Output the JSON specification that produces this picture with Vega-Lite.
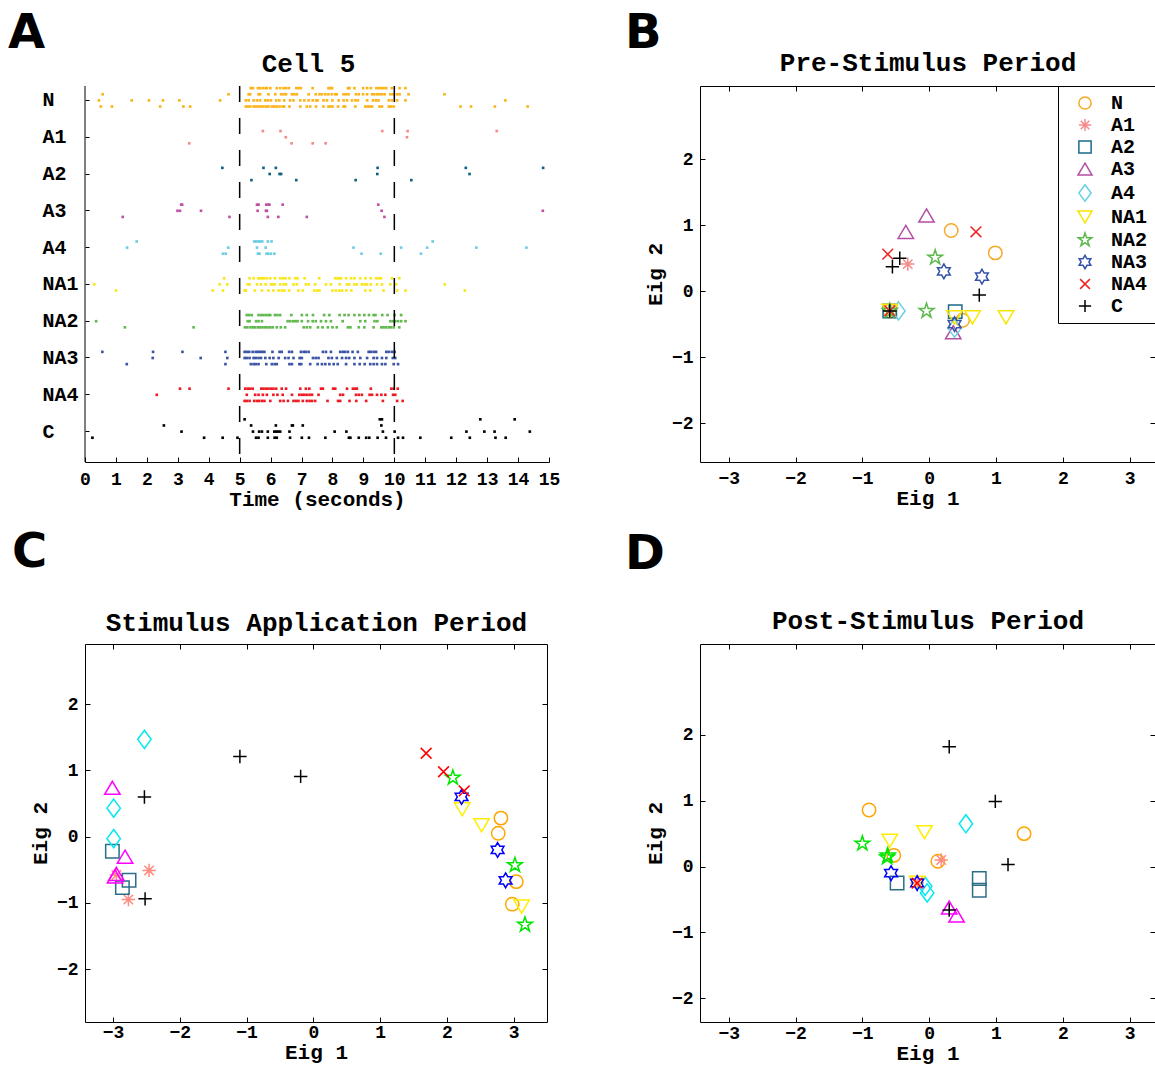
{
  "$schema": "https://vega.github.io/schema/vega-lite/v6.json",
  "background": "white",
  "padding": {"left": 8, "top": 9, "right": 0, "bottom": 0},
  "columns": 2,
  "spacing": {"row": 182, "column": 151},
  "bounds": "flush",
  "config": {
    "font": "Liberation Mono",
    "view": {"stroke": null},
    "axis": {"labelFont": "Liberation Mono", "labelFontWeight": "bold", "labelFontSize": 18, "labelColor": "black", "titleFont": "Liberation Mono", "titleFontWeight": "bold", "titleFontSize": 21, "titleColor": "black", "tickColor": "black", "tickSize": -5, "tickWidth": 1, "domainColor": "black", "domainWidth": 1, "grid": false, "labelOverlap": false, "labelFlush": false, "labelBound": false},
    "title": {"font": "DejaVu Sans", "fontSize": 48, "fontWeight": "bold", "color": "black", "anchor": "start", "frame": "group"}
  },
  "resolve": {"scale": {"color": "independent", "shape": "independent"}, "legend": {"color": "independent", "shape": "independent"}},
  "concat": [
    {
      "width": 464, "height": 376,
      "view": {"stroke": null},
      "title": {"text": "A", "dx": -77, "dy": 12},
      "layer": [
        {
          "data": {"values": [
            {"cell": "N", "trial": 1, "times": [5.36,5.43,5.59,5.66,5.75,5.84,5.88,5.99,6.20,6.31,6.42,6.50,6.59,6.83,6.90,6.98,7.36,7.87,7.93,7.99,8.50,8.55,8.71,8.99,9.12,9.24,9.42,9.49,9.58,9.65,9.74,9.92,10.17,10.36]},
            {"cell": "N", "trial": 2, "times": [0.57,4.64,5.29,5.34,5.61,5.66,5.93,6.15,6.34,6.42,6.50,6.69,6.77,6.85,7.23,7.46,7.58,7.66,7.77,7.87,7.98,8.09,8.14,8.36,8.44,8.52,8.76,8.85,8.99,9.12,9.28,9.35,9.44,9.52,9.60,9.69,9.87,9.95,10.09,10.17,10.46,11.62]},
            {"cell": "N", "trial": 3, "times": [0.45,1.51,2.07,2.52,3.05,4.37,5.20,5.29,5.45,5.56,5.66,5.83,5.91,6.01,6.18,6.28,6.44,6.63,6.74,6.96,7.09,7.23,7.36,7.47,7.52,7.71,7.82,8.00,8.20,8.36,8.47,8.63,8.74,8.82,9.12,9.31,9.41,9.49,9.82,9.92,10.09,10.36,13.59]},
            {"cell": "N", "trial": 4, "times": [0.51,0.87,2.43,3.18,3.40,5.20,5.26,5.34,5.45,5.53,5.61,5.69,5.77,5.86,5.93,6.04,6.12,6.20,6.29,6.39,6.44,6.61,6.96,7.17,7.28,7.47,7.71,7.87,7.93,8.00,8.18,8.36,8.41,8.74,9.06,9.14,9.20,9.28,9.52,9.60,9.82,9.90,9.98,12.14,12.48,13.25,14.31]},
            {"cell": "A1", "trial": 2, "times": [5.75,6.32,9.61,10.43,13.31]},
            {"cell": "A1", "trial": 3, "times": [6.49,10.41]},
            {"cell": "A1", "trial": 4, "times": [3.37,6.68,7.36,7.78]},
            {"cell": "A2", "trial": 2, "times": [4.44,5.77,6.17,9.46,12.31,14.81]},
            {"cell": "A2", "trial": 3, "times": [5.97,6.29,6.34,9.45,12.43]},
            {"cell": "A2", "trial": 4, "times": [5.38,6.83,8.75,10.55]},
            {"cell": "A3", "trial": 2, "times": [3.11,3.14,5.56,5.61,5.86,5.93,5.96,6.39,9.48]},
            {"cell": "A3", "trial": 3, "times": [2.99,3.07,3.75,5.58,5.85,5.88,9.59,14.80]},
            {"cell": "A3", "trial": 4, "times": [1.22,4.67,5.91,6.25,7.17,9.68]},
            {"cell": "A4", "trial": 2, "times": [1.67,5.47,5.53,5.60,5.66,5.73,5.91,6.03,11.24]},
            {"cell": "A4", "trial": 3, "times": [1.36,4.63,5.56,5.84,8.68,10.22,11.06,12.65,14.27]},
            {"cell": "A4", "trial": 4, "times": [4.46,4.55,5.59,5.64,5.87,5.92,6.01,6.12,8.94,9.56,10.86]},
            {"cell": "NA1", "trial": 2, "times": [4.50,5.32,5.45,5.60,5.66,5.73,5.79,5.88,5.99,6.14,6.31,6.40,6.48,6.61,6.80,6.87,7.10,7.57,8.09,8.16,8.22,8.28,8.44,8.60,8.71,8.90,9.07,9.24,9.41,9.49,9.57,9.92,10.16]},
            {"cell": "NA1", "trial": 3, "times": [0.30,4.35,4.60,5.26,5.32,5.56,5.69,5.84,6.01,6.06,6.13,6.31,6.42,6.50,6.74,6.85,7.14,7.23,7.44,7.79,7.95,8.23,8.47,8.54,8.71,8.79,8.95,9.04,9.12,9.24,9.44,9.60,9.87,10.06,11.63]},
            {"cell": "NA1", "trial": 4, "times": [1.00,4.13,4.46,5.16,5.20,5.49,5.72,5.93,6.09,6.26,6.36,6.45,6.60,6.90,7.04,7.41,7.50,7.58,8.00,8.11,8.22,8.31,8.45,8.61,9.06,9.22,9.65,10.09,10.36,12.28]},
            {"cell": "NA2", "trial": 2, "times": [5.23,5.31,5.39,5.61,5.70,5.77,5.85,5.93,5.99,6.14,6.22,6.31,6.67,7.01,7.17,7.37,7.73,7.90,8.23,8.39,8.52,8.71,8.87,9.03,9.18,9.33,9.39,9.61,9.78,10.01,10.22]},
            {"cell": "NA2", "trial": 3, "times": [0.36,5.26,5.32,5.53,5.61,5.72,6.55,6.63,6.72,6.80,6.87,7.01,7.21,7.36,7.46,7.63,7.79,7.95,8.33,8.90,9.06,9.36,9.45,9.87,9.95,10.03,10.12,10.22,10.36]},
            {"cell": "NA2", "trial": 4, "times": [1.29,3.51,5.17,5.25,5.35,5.43,5.50,5.59,5.66,5.74,5.83,5.90,5.99,6.07,6.20,6.33,6.47,7.07,7.17,7.28,7.53,7.68,7.85,8.00,8.14,8.50,8.58,8.85,9.03,9.33,9.58,9.65,9.73,9.82,9.89,9.98,10.16]},
            {"cell": "NA3", "trial": 2, "times": [0.56,2.20,3.15,4.54,5.16,5.23,5.31,5.42,5.52,5.59,5.66,5.73,5.80,6.06,6.29,6.36,6.60,6.69,6.98,7.07,7.14,7.23,7.69,7.79,7.95,8.25,8.33,8.41,8.50,8.65,8.82,9.17,9.24,9.33,9.41,9.74,9.82,9.92,10.01]},
            {"cell": "NA3", "trial": 3, "times": [2.19,3.74,4.60,5.16,5.23,5.32,5.45,5.52,5.61,5.69,5.83,5.97,6.09,6.26,6.47,6.58,6.74,6.94,7.01,7.37,7.46,7.55,7.87,7.98,8.14,8.31,8.44,8.54,8.71,8.90,9.12,9.33,9.44,9.60,9.74,9.95,10.03]},
            {"cell": "NA3", "trial": 4, "times": [1.35,4.54,5.36,5.45,5.52,5.61,5.86,6.04,6.13,6.20,6.61,6.69,6.93,6.99,7.28,7.52,7.66,7.77,7.90,8.04,8.17,8.44,8.71,8.88,9.04,9.22,9.33,9.44,9.60,9.71,9.98,10.12]},
            {"cell": "NA4", "trial": 2, "times": [3.07,3.38,4.64,5.18,5.26,5.34,5.42,5.70,5.77,5.85,5.93,6.01,6.09,6.18,6.36,6.50,6.96,7.14,7.25,7.63,7.69,8.02,8.09,8.47,8.66,8.74,8.79,9.24,9.90,9.98,10.11]},
            {"cell": "NA4", "trial": 3, "times": [2.32,5.23,5.50,5.61,5.75,5.88,6.09,6.22,6.39,6.69,6.93,7.01,7.09,7.17,7.26,7.34,7.55,8.25,8.34,8.76,8.85,8.95,9.20,9.28,9.44,9.58,9.71,9.96,10.03]},
            {"cell": "NA4", "trial": 4, "times": [5.16,5.23,5.32,5.47,5.56,5.63,5.72,5.80,5.99,6.31,6.42,6.56,6.74,6.82,6.90,7.04,7.17,7.26,7.34,7.44,7.84,8.18,8.25,8.55,8.77,9.09,9.63,10.09,10.27]},
            {"cell": "C", "trial": 1, "times": [5.16,9.53,9.60,12.78,13.89]},
            {"cell": "C", "trial": 2, "times": [2.55,5.37,6.17,6.69,6.72,7.04,9.58]},
            {"cell": "C", "trial": 3, "times": [3.12,5.43,5.63,5.72,5.91,6.12,6.18,6.24,6.31,6.61,8.07,8.45,9.63,10.01,12.33,12.91,13.24,14.38]},
            {"cell": "C", "trial": 4, "times": [0.24,3.85,4.45,4.93,5.53,5.61,5.91,6.13,6.20,6.63,7.01,7.24,7.77,8.53,8.58,8.85,9.09,9.19,9.46,9.73,10.12,10.28,10.84,11.84,12.44,13.27,13.60]}
          ]},
          "transform": [{"flatten": ["times"], "as": ["t"]}],
          "mark": {"type": "square", "size": 7, "opacity": 1},
          "encoding": {
            "x": {"field": "t", "type": "quantitative", "scale": {"domain": [0, 15], "nice": false, "zero": false},
                  "axis": {"title": "Time (seconds)", "values": [0,1,2,3,4,5,6,7,8,9,10,11,12,13,14,15], "labelPadding": 13, "titlePadding": 0, "domain": true}},
            "y": {"field": "cell", "type": "nominal", "sort": ["N","A1","A2","A3","A4","NA1","NA2","NA3","NA4","C"],
                  "scale": {"range": [-4, 364], "paddingInner": 0, "paddingOuter": 0},
                  "axis": {"title": null, "domain": false, "labelAlign": "left", "labelPadding": 47, "labelFontSize": 20, "tickSize": -4}},
            "yOffset": {"field": "trial", "type": "ordinal", "scale": {"domain": [1,2,3,4,5], "paddingInner": 0, "paddingOuter": 1.44}},
            "color": {"field": "cell", "type": "nominal", "legend": null,
                      "scale": {"domain": ["N","A1","A2","A3","A4","NA1","NA2","NA3","NA4","C"],
                                "range": ["#fbb41c","#f48a8a","#10637e","#c050a5","#6ccde3","#f8e71c","#62b94f","#3b54a5","#ed1c24","#000000"]}}
          }
        },
        {
          "data": {"values": [{"t": 5}, {"t": 10}]},
          "mark": {"type": "rule", "color": "black", "strokeWidth": 1.5, "strokeDash": [16, 16]},
          "encoding": {"x": {"field": "t", "type": "quantitative",
                             "axis": {"orient": "top", "title": "Cell 5", "titleFontSize": 26, "titleX": 223, "labels": false, "ticks": false, "domain": false, "titlePadding": 10}}}
        },
        {
          "data": {"values": [{"t": 0}]},
          "mark": {"type": "rule", "color": "black", "strokeWidth": 1},
          "encoding": {"x": {"field": "t", "type": "quantitative", "axis": null}}
        }
      ],
      "resolve": {"axis": {"x": "independent"}}
    },
    {
      "width": 455, "height": 376,
      "view": {"stroke": "black", "strokeWidth": 1},
      "title": {"text": "B", "dx": -75, "dy": 12},
      "data": {"values": [
        {"cell":"N","e1":0.33,"e2":0.92},{"cell":"N","e1":0.99,"e2":0.58},{"cell":"N","e1":0.50,"e2":-0.44},{"cell":"N","e1":-0.59,"e2":-0.30},
        {"cell":"A1","e1":-0.32,"e2":0.41},{"cell":"A1","e1":-0.59,"e2":-0.30},
        {"cell":"A2","e1":0.39,"e2":-0.31},{"cell":"A2","e1":-0.59,"e2":-0.30},
        {"cell":"A3","e1":-0.04,"e2":1.15},{"cell":"A3","e1":-0.35,"e2":0.90},{"cell":"A3","e1":0.36,"e2":-0.62},
        {"cell":"A4","e1":-0.46,"e2":-0.30},{"cell":"A4","e1":0.38,"e2":-0.56},
        {"cell":"NA1","e1":0.38,"e2":-0.40},{"cell":"NA1","e1":0.65,"e2":-0.40},{"cell":"NA1","e1":1.15,"e2":-0.40},{"cell":"NA1","e1":-0.59,"e2":-0.30},
        {"cell":"NA2","e1":0.09,"e2":0.51},{"cell":"NA2","e1":-0.04,"e2":-0.30},{"cell":"NA2","e1":-0.59,"e2":-0.30},
        {"cell":"NA3","e1":0.22,"e2":0.30},{"cell":"NA3","e1":0.79,"e2":0.22},{"cell":"NA3","e1":0.38,"e2":-0.50},
        {"cell":"NA4","e1":0.70,"e2":0.90},{"cell":"NA4","e1":-0.62,"e2":0.56},{"cell":"NA4","e1":-0.59,"e2":-0.30},
        {"cell":"C","e1":-0.44,"e2":0.50},{"cell":"C","e1":-0.55,"e2":0.37},{"cell":"C","e1":0.75,"e2":-0.06},{"cell":"C","e1":-0.59,"e2":-0.30}
      ]},
      "layer": [
        {
          "mark": {"type": "point", "filled": false, "size": 180, "strokeWidth": 1.5, "opacity": 1},
          "encoding": {
            "x": {"field": "e1", "type": "quantitative", "scale": {"domain": [-3.43, 3.38], "nice": false, "zero": false},
                  "axis": {"title": "Eig 1", "values": [-3,-2,-1,0,1,2,3], "domain": false, "labelPadding": 12, "titlePadding": 0}},
            "y": {"field": "e2", "type": "quantitative", "scale": {"domain": [-2.59, 3.11], "nice": false, "zero": false},
                  "axis": {"title": "Eig 2", "values": [-2,-1,0,1,2], "domain": false, "labelPadding": 12, "titlePadding": 6}},
            "color": {"field": "cell", "type": "nominal",
                      "scale": {"domain": ["N","A1","A2","A3","A4","NA1","NA2","NA3","NA4","C"],
                                "range": ["#f7a928","#f58a8a","#1b6b87","#b44fa6","#6ad0e6","#f7e600","#5cb84a","#3452a8","#ee2222","#000000"]},
                      "legend": {"orient": "top-right", "offset": 0, "title": null, "strokeColor": "black", "fillColor": "white", "padding": 7, "symbolOffset": 10, "labelOffset": 16, "labelFont": "Liberation Mono", "labelFontSize": 20, "labelFontWeight": "bold", "labelColor": "black", "symbolSize": 150, "symbolStrokeWidth": 1.5, "rowPadding": 2}},
            "shape": {"field": "cell", "type": "nominal",
                      "scale": {"domain": ["N","A1","A2","A3","A4","NA1","NA2","NA3","NA4","C"],
                                "range": ["circle","M-1,0L1,0M0,-1L0,1M-0.7,-0.7L0.7,0.7M-0.7,0.7L0.7,-0.7","square","M0,-0.95L1.15,1L-1.15,1Z","M0,-1.35L1,0L0,1.35L-1,0Z","M0,0.95L1.15,-1L-1.15,-1Z","M0,-1.15L0.258,-0.355L1.094,-0.355L0.418,0.136L0.676,0.93L0,0.439L-0.676,0.93L-0.418,0.136L-1.094,-0.355L-0.258,-0.355Z","M0,-1.1L0.318,-0.55L0.953,-0.55L0.635,0L0.953,0.55L0.318,0.55L0,1.1L-0.318,0.55L-0.953,0.55L-0.635,0L-0.953,-0.55L-0.318,-0.55Z","M-0.8,-0.8L0.8,0.8M-0.8,0.8L0.8,-0.8","M-1,0L1,0M0,-1L0,1"]},
                      "legend": {"orient": "top-right", "offset": 0, "title": null, "strokeColor": "black", "fillColor": "white", "padding": 7, "symbolOffset": 10, "labelOffset": 16, "labelFont": "Liberation Mono", "labelFontSize": 20, "labelFontWeight": "bold", "labelColor": "black", "symbolSize": 150, "symbolStrokeWidth": 1.5, "rowPadding": 2}}
          }
        },
        {
          "mark": {"type": "point", "opacity": 0},
          "encoding": {
            "x": {"field": "e1", "type": "quantitative", "axis": {"orient": "top", "title": "Pre-Stimulus Period", "titleFontSize": 26, "values": [-3,-2,-1,0,1,2,3], "labels": false, "domain": false, "titlePadding": 10}},
            "y": {"field": "e2", "type": "quantitative", "axis": {"orient": "right", "title": null, "values": [-2,-1,0,1,2], "labels": false, "domain": false}}
          }
        }
      ],
      "resolve": {"axis": {"x": "independent", "y": "independent"}}
    },
    {
      "width": 462, "height": 378,
      "view": {"stroke": "black", "strokeWidth": 1},
      "title": {"text": "C", "dx": -73, "dy": -29},
      "data": {"values": [
        {"cell":"N","e1":2.81,"e2":0.28},{"cell":"N","e1":2.77,"e2":0.05},{"cell":"N","e1":3.04,"e2":-0.68},{"cell":"N","e1":2.98,"e2":-1.02},
        {"cell":"A1","e1":-2.46,"e2":-0.51},{"cell":"A1","e1":-2.95,"e2":-0.58},{"cell":"A1","e1":-2.77,"e2":-0.95},
        {"cell":"A2","e1":-3.01,"e2":-0.22},{"cell":"A2","e1":-2.76,"e2":-0.66},{"cell":"A2","e1":-2.86,"e2":-0.77},
        {"cell":"A3","e1":-3.01,"e2":0.74},{"cell":"A3","e1":-2.82,"e2":-0.30},{"cell":"A3","e1":-2.95,"e2":-0.56},{"cell":"A3","e1":-2.97,"e2":-0.60},
        {"cell":"A4","e1":-2.53,"e2":1.47},{"cell":"A4","e1":-2.99,"e2":0.43},{"cell":"A4","e1":-2.99,"e2":-0.03},
        {"cell":"NA1","e1":2.23,"e2":0.41},{"cell":"NA1","e1":2.52,"e2":0.17},{"cell":"NA1","e1":3.12,"e2":-1.06},
        {"cell":"NA2","e1":2.09,"e2":0.89},{"cell":"NA2","e1":3.02,"e2":-0.43},{"cell":"NA2","e1":3.17,"e2":-1.33},
        {"cell":"NA3","e1":2.22,"e2":0.60},{"cell":"NA3","e1":2.76,"e2":-0.20},{"cell":"NA3","e1":2.88,"e2":-0.66},
        {"cell":"NA4","e1":1.69,"e2":1.26},{"cell":"NA4","e1":1.95,"e2":0.98},{"cell":"NA4","e1":2.26,"e2":0.69},
        {"cell":"C","e1":-2.53,"e2":0.60},{"cell":"C","e1":-2.52,"e2":-0.94},{"cell":"C","e1":-1.10,"e2":1.21},{"cell":"C","e1":-0.19,"e2":0.91}
      ]},
      "layer": [
        {
          "mark": {"type": "point", "filled": false, "size": 180, "strokeWidth": 1.5, "opacity": 1},
          "encoding": {
            "x": {"field": "e1", "type": "quantitative", "scale": {"domain": [-3.42, 3.5], "nice": false, "zero": false},
                  "axis": {"title": "Eig 1", "values": [-3,-2,-1,0,1,2,3], "domain": false, "labelPadding": 6, "titlePadding": 0}},
            "y": {"field": "e2", "type": "quantitative", "scale": {"domain": [-2.8, 2.91], "nice": false, "zero": false},
                  "axis": {"title": "Eig 2", "values": [-2,-1,0,1,2], "domain": false, "labelPadding": 12, "titlePadding": 6}},
            "color": {"field": "cell", "type": "nominal", "legend": null,
                      "scale": {"domain": ["N","A1","A2","A3","A4","NA1","NA2","NA3","NA4","C"],
                                "range": ["#ffa500","#ff8a80","#2a6f87","#ff00ff","#00e8f0","#ffee00","#00e600","#0000ff","#ff0000","#000000"]}},
            "shape": {"field": "cell", "type": "nominal", "legend": null,
                      "scale": {"domain": ["N","A1","A2","A3","A4","NA1","NA2","NA3","NA4","C"],
                                "range": ["circle","M-1,0L1,0M0,-1L0,1M-0.7,-0.7L0.7,0.7M-0.7,0.7L0.7,-0.7","square","M0,-0.95L1.15,1L-1.15,1Z","M0,-1.35L1,0L0,1.35L-1,0Z","M0,0.95L1.15,-1L-1.15,-1Z","M0,-1.15L0.258,-0.355L1.094,-0.355L0.418,0.136L0.676,0.93L0,0.439L-0.676,0.93L-0.418,0.136L-1.094,-0.355L-0.258,-0.355Z","M0,-1.1L0.318,-0.55L0.953,-0.55L0.635,0L0.953,0.55L0.318,0.55L0,1.1L-0.318,0.55L-0.953,0.55L-0.635,0L-0.953,-0.55L-0.318,-0.55Z","M-0.8,-0.8L0.8,0.8M-0.8,0.8L0.8,-0.8","M-1,0L1,0M0,-1L0,1"]}}
          }
        },
        {
          "mark": {"type": "point", "opacity": 0},
          "encoding": {
            "x": {"field": "e1", "type": "quantitative", "axis": {"orient": "top", "title": "Stimulus Application Period", "titleFontSize": 26, "values": [-3,-2,-1,0,1,2,3], "labels": false, "domain": false, "titlePadding": 8}},
            "y": {"field": "e2", "type": "quantitative", "axis": {"orient": "right", "title": null, "values": [-2,-1,0,1,2], "labels": false, "domain": false}}
          }
        }
      ],
      "resolve": {"axis": {"x": "independent", "y": "independent"}}
    },
    {
      "width": 455, "height": 378,
      "view": {"stroke": "black", "strokeWidth": 1},
      "title": {"text": "D", "dx": -75, "dy": -25},
      "data": {"values": [
        {"cell":"N","e1":-0.90,"e2":0.86},{"cell":"N","e1":1.42,"e2":0.50},{"cell":"N","e1":-0.53,"e2":0.17},{"cell":"N","e1":0.13,"e2":0.08},
        {"cell":"A1","e1":0.18,"e2":0.10},{"cell":"A1","e1":-0.18,"e2":-0.25},
        {"cell":"A2","e1":-0.48,"e2":-0.25},{"cell":"A2","e1":0.75,"e2":-0.18},{"cell":"A2","e1":0.75,"e2":-0.36},
        {"cell":"A3","e1":0.30,"e2":-0.62},{"cell":"A3","e1":0.41,"e2":-0.74},
        {"cell":"A4","e1":0.55,"e2":0.65},{"cell":"A4","e1":-0.06,"e2":-0.30},{"cell":"A4","e1":-0.03,"e2":-0.40},
        {"cell":"NA1","e1":-0.07,"e2":0.52},{"cell":"NA1","e1":-0.59,"e2":0.39},{"cell":"NA1","e1":-0.18,"e2":-0.25},
        {"cell":"NA2","e1":-1.00,"e2":0.35},{"cell":"NA2","e1":-0.62,"e2":0.17},{"cell":"NA2","e1":-0.63,"e2":0.14},
        {"cell":"NA3","e1":-0.57,"e2":-0.10},{"cell":"NA3","e1":-0.18,"e2":-0.25},
        {"cell":"NA4","e1":-0.18,"e2":-0.25},
        {"cell":"C","e1":0.30,"e2":1.82},{"cell":"C","e1":0.99,"e2":0.99},{"cell":"C","e1":1.18,"e2":0.03},{"cell":"C","e1":0.30,"e2":-0.66}
      ]},
      "layer": [
        {
          "mark": {"type": "point", "filled": false, "size": 180, "strokeWidth": 1.5, "opacity": 1},
          "encoding": {
            "x": {"field": "e1", "type": "quantitative", "scale": {"domain": [-3.43, 3.38], "nice": false, "zero": false},
                  "axis": {"title": "Eig 1", "values": [-3,-2,-1,0,1,2,3], "domain": false, "labelPadding": 7, "titlePadding": 0}},
            "y": {"field": "e2", "type": "quantitative", "scale": {"domain": [-2.36, 3.38], "nice": false, "zero": false},
                  "axis": {"title": "Eig 2", "values": [-2,-1,0,1,2], "domain": false, "labelPadding": 12, "titlePadding": 6}},
            "color": {"field": "cell", "type": "nominal", "legend": null,
                      "scale": {"domain": ["N","A1","A2","A3","A4","NA1","NA2","NA3","NA4","C"],
                                "range": ["#ffa500","#ff8a80","#2a6f87","#ff00ff","#00e8f0","#ffee00","#00e600","#0000ff","#ff0000","#000000"]}},
            "shape": {"field": "cell", "type": "nominal", "legend": null,
                      "scale": {"domain": ["N","A1","A2","A3","A4","NA1","NA2","NA3","NA4","C"],
                                "range": ["circle","M-1,0L1,0M0,-1L0,1M-0.7,-0.7L0.7,0.7M-0.7,0.7L0.7,-0.7","square","M0,-0.95L1.15,1L-1.15,1Z","M0,-1.35L1,0L0,1.35L-1,0Z","M0,0.95L1.15,-1L-1.15,-1Z","M0,-1.15L0.258,-0.355L1.094,-0.355L0.418,0.136L0.676,0.93L0,0.439L-0.676,0.93L-0.418,0.136L-1.094,-0.355L-0.258,-0.355Z","M0,-1.1L0.318,-0.55L0.953,-0.55L0.635,0L0.953,0.55L0.318,0.55L0,1.1L-0.318,0.55L-0.953,0.55L-0.635,0L-0.953,-0.55L-0.318,-0.55Z","M-0.8,-0.8L0.8,0.8M-0.8,0.8L0.8,-0.8","M-1,0L1,0M0,-1L0,1"]}}
          }
        },
        {
          "mark": {"type": "point", "opacity": 0},
          "encoding": {
            "x": {"field": "e1", "type": "quantitative", "axis": {"orient": "top", "title": "Post-Stimulus Period", "titleFontSize": 26, "values": [-3,-2,-1,0,1,2,3], "labels": false, "domain": false, "titlePadding": 10}},
            "y": {"field": "e2", "type": "quantitative", "axis": {"orient": "right", "title": null, "values": [-2,-1,0,1,2], "labels": false, "domain": false}}
          }
        }
      ],
      "resolve": {"axis": {"x": "independent", "y": "independent"}}
    }
  ]
}
